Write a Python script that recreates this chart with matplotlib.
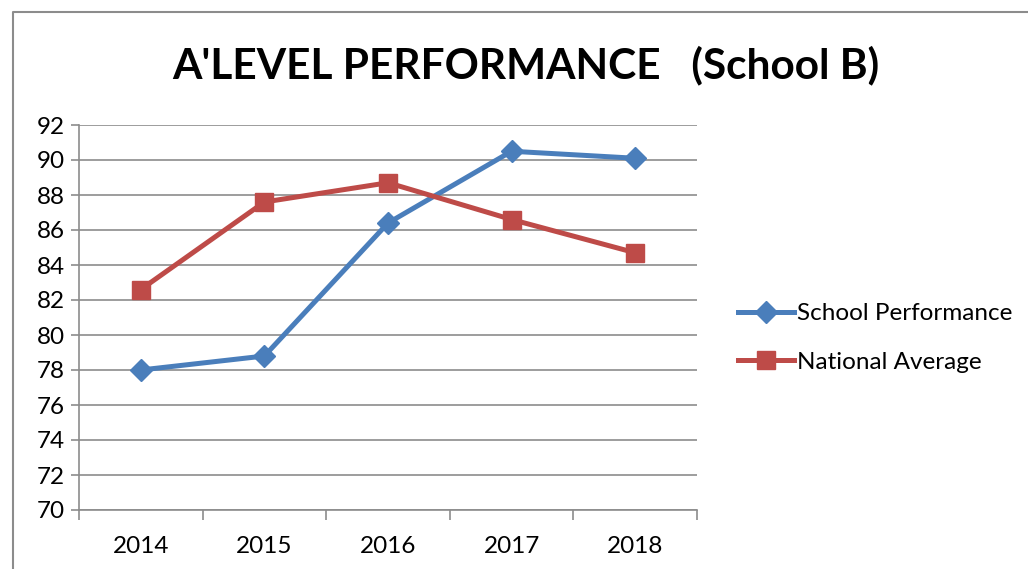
import numpy as np
import matplotlib
matplotlib.use("Agg")
import matplotlib.pyplot as plt
from matplotlib.lines import Line2D

plt.rcParams["font.family"] = ["Lato", "DejaVu Sans"]

years = ["2014", "2015", "2016", "2017", "2018"]
school = [78.0, 78.8, 86.4, 90.5, 90.1]
national = [82.6, 87.6, 88.7, 86.6, 84.7]

BLUE = "#4a7ebb"
RED = "#be4b48"
GRID = "#8c8c8c"

fig = plt.figure(figsize=(10.28, 5.69), dpi=100)
W, H = 1028, 569

# chart frame
frame = Line2D([13 / W, 13 / W, 1.0], [0.0, 1 - 12 / H, 1 - 12 / H],
               transform=fig.transFigure, color="#8c8c8c", linewidth=1.5)
fig.add_artist(frame)

ax = fig.add_axes([79 / W, 1 - 510 / H, (697 - 79) / W, (510 - 125) / H])

x = np.arange(len(years))
ax.plot(x, school, color=BLUE, linewidth=3.6, marker="D", markersize=11.5,
        label="School Performance", zorder=3)
ax.plot(x, national, color=RED, linewidth=3.6, marker="s", markersize=12.5,
        label="National Average", zorder=3)

ax.set_xlim(-0.5, len(years) - 0.5)
ax.set_ylim(70, 92)
ax.set_yticks(np.arange(70, 93, 2))
ax.set_xticks(x)
ax.set_xticklabels(years)
ax.set_xticks(np.arange(-0.5, len(years), 1), minor=True)

ax.grid(axis="y", color=GRID, linewidth=1.2)
ax.set_axisbelow(True)
for s in ["top", "right"]:
    ax.spines[s].set_visible(False)
for s in ["left", "bottom"]:
    ax.spines[s].set_color(GRID)
    ax.spines[s].set_linewidth(1.2)

ax.tick_params(axis="y", length=6, color=GRID, width=1.2, labelsize=17.5, pad=4)
ax.tick_params(axis="x", which="major", length=0, labelsize=17.5, pad=19)
ax.tick_params(axis="x", which="minor", length=7, color=GRID, width=1.2)

fig.text(526 / W, 1 - 65 / H, "A'LEVEL PERFORMANCE   (School B)",
         ha="center", va="center", fontsize=30.5, fontweight="bold")

ax.legend(loc="center left", bbox_to_anchor=(1.066, 0.447), frameon=False,
          fontsize=17.5, handlelength=2.3, handletextpad=0.15, labelspacing=1.12,
          borderpad=0, borderaxespad=0)

fig.savefig("out.png", dpi=100)
